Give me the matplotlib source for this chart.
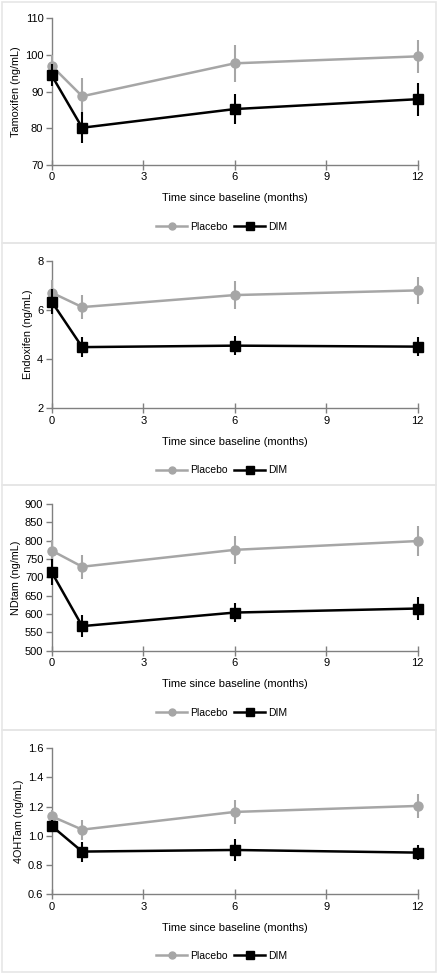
import matplotlib
matplotlib.use('Agg')
from matplotlib import pyplot as plt
from matplotlib.patches import Rectangle
from matplotlib.lines import Line2D

plt.rcParams['font.family'] = ['Liberation Sans', 'DejaVu Sans']

months = [0, 1, 6, 12]

# Tamoxifen
tam_placebo = [97.0, 88.7, 97.7, 99.6]
tam_placebo_err = [3.0, 5.0, 5.0, 4.5]
tam_dim = [94.4, 80.1, 85.2, 87.9]
tam_dim_err = [3.0, 4.3, 4.2, 4.5]

# Endoxifen
endo_placebo = [6.70, 6.11, 6.60, 6.79]
endo_placebo_err = [0.5, 0.5, 0.57, 0.55]
endo_dim = [6.33, 4.48, 4.54, 4.50]
endo_dim_err = [0.5, 0.4, 0.4, 0.4]

# NDtam
nd_placebo = [773, 729, 775, 799]
nd_placebo_err = [30, 33, 38, 40]
nd_dim = [714, 567, 604, 615]
nd_dim_err = [36, 29, 27, 31]

# 4OHTam
oh_placebo = [1.133, 1.042, 1.163, 1.204]
oh_placebo_err = [0.04, 0.068, 0.08, 0.083]
oh_dim = [1.067, 0.892, 0.903, 0.885]
oh_dim_err = [0.04, 0.068, 0.074, 0.053]

ylabels = ['Tamoxifen (ng/mL)', 'Endoxifen (ng/mL)', 'NDtam (ng/mL)', '4OHTam (ng/mL)']
yticks = [[70, 80, 90, 100, 110],
          [2, 4, 6, 8],
          [500, 550, 600, 650, 700, 750, 800, 850, 900],
          [0.6, 0.8, 1.0, 1.2, 1.4, 1.6]]
yticklabels = [None, None, None, ['0.6', '0.8', '1.0', '1.2', '1.4', '1.6']]
panels = [(tam_placebo, tam_placebo_err, tam_dim, tam_dim_err),
          (endo_placebo, endo_placebo_err, endo_dim, endo_dim_err),
          (nd_placebo, nd_placebo_err, nd_dim, nd_dim_err),
          (oh_placebo, oh_placebo_err, oh_dim, oh_dim_err)]

W, H = 439, 975
fig = plt.figure(figsize=(W / 100, H / 100), dpi=100)

# pixel positions (top, bottom) of the plot areas and panel boxes
axes_px = [(18.3, 164.7), (260.7, 408.0), (504.0, 650.7), (748.0, 894.3)]
box_px = [(2, 243), (243, 485), (485, 730), (730, 972)]
left_px, right_px = 51.7, 417.7

gray = '#a6a6a6'
axis_gray = '#808080'

# legend entries without the error bar strokes
handles = [Line2D([], [], color=gray, marker='o', markersize=5, linewidth=1.8),
           Line2D([], [], color='black', marker='s', markersize=5.5, linewidth=1.8)]

for i in range(4):
    bt, bb = box_px[i]
    fig.add_artist(Rectangle((2 / W, 1 - bb / H), (W - 5) / W, (bb - bt) / H,
                             transform=fig.transFigure, facecolor='none',
                             edgecolor='#e6e6e6', linewidth=1.2))
    top, bot = axes_px[i]
    ax = fig.add_axes([left_px / W, 1 - bot / H, (right_px - left_px) / W, (bot - top) / H])
    pl, ple, dm, dme = panels[i]

    ax.errorbar(months, pl, yerr=ple, color=gray, marker='o', markersize=6.5,
                linewidth=1.8, elinewidth=1.5, capsize=0, clip_on=False, zorder=3)
    ax.errorbar(months, dm, yerr=dme, color='black', marker='s', markersize=7.5,
                linewidth=1.8, elinewidth=1.5, capsize=0, clip_on=False, zorder=4)

    ax.set_xlim(0, 12)
    ax.set_xticks([0, 3, 6, 9, 12])
    ax.set_ylim(yticks[i][0], yticks[i][-1])
    ax.set_yticks(yticks[i])
    if yticklabels[i]:
        ax.set_yticklabels(yticklabels[i])

    for s in ['top', 'right']:
        ax.spines[s].set_visible(False)
    for s in ['left', 'bottom']:
        ax.spines[s].set_color(axis_gray)
        ax.spines[s].set_linewidth(1.0)
    ax.tick_params(axis='x', direction='inout', length=7, width=1.0, color=axis_gray,
                   labelsize=8, pad=2)
    ax.tick_params(axis='y', direction='out', length=4, width=1.0, color=axis_gray,
                   labelsize=8, pad=2)

    ax.set_ylabel(ylabels[i], fontsize=7.8, labelpad=3)
    ax.set_xlabel('Time since baseline (months)', fontsize=8, labelpad=8)
    ax.legend(handles, ['Placebo', 'DIM'], loc='upper center',
              bbox_to_anchor=(0.465, -0.36), ncol=2, frameon=False,
              fontsize=7.5, handlelength=3.0, columnspacing=0.6, handletextpad=0.3,
              borderaxespad=0)

fig.savefig('out.png', dpi=100)
